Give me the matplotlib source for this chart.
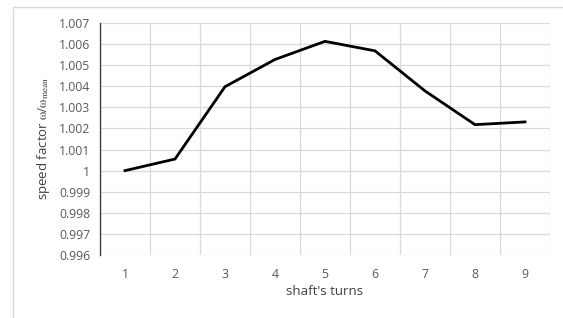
import matplotlib
matplotlib.use("Agg")
import matplotlib.pyplot as plt
from matplotlib.patches import Rectangle
import numpy as np

turns = [1, 2, 3, 4, 5, 6, 7, 8, 9]
speed = [1.0000, 1.00055, 1.00398, 1.00527, 1.00613, 1.00568, 1.00378, 1.00218, 1.00231]
yticks = [0.996, 0.997, 0.998, 0.999, 1.0, 1.001, 1.002, 1.003, 1.004, 1.005, 1.006, 1.007]
ytick_labels = ["0.996", "0.997", "0.998", "0.999", "1", "1.001", "1.002", "1.003",
                "1.004", "1.005", "1.006", "1.007"]

plt.rcParams['font.family'] = ['Open Sans', 'DejaVu Sans']
plt.rcParams['mathtext.fontset'] = 'stix'

fig = plt.figure(figsize=(5.63, 3.18), dpi=100)
fig.patches.append(Rectangle((13/563, -0.1), 1.0, 1.1 - 7/318, transform=fig.transFigure,
                             fill=False, edgecolor='#d9d9d9', linewidth=1))
ax = fig.add_axes([100/563, 1 - 255/318, 450/563, 232/318])

x = np.arange(len(turns))
ax.plot(x, speed, color='black', linewidth=2.0, solid_joinstyle='miter', zorder=3)

ax.set_xlim(-0.5, len(turns) - 0.5)
ax.set_ylim(0.996, 1.007)
ax.set_yticks(yticks)
ax.set_yticklabels(ytick_labels)
ax.set_xticks(x)
ax.set_xticklabels([str(t) for t in turns])
ax.set_xticks(np.arange(len(turns) + 1) - 0.5, minor=True)

ax.grid(True, axis='y', which='major', color='#d9d9d9', linewidth=0.9)
ax.grid(True, axis='x', which='minor', color='#d9d9d9', linewidth=0.9)
ax.tick_params(axis='both', which='both', length=0, colors='#595959', labelsize=8.8)
ax.tick_params(axis='x', pad=9)
ax.tick_params(axis='y', pad=7)

for s in ['top', 'right', 'bottom']:
    ax.spines[s].set_visible(False)
ax.spines['left'].set_color('#404040')
ax.spines['left'].set_linewidth(1.0)

ax.set_xlabel("shaft's turns", color='#404040', fontsize=9.5, labelpad=3)
ax.set_ylabel(r"speed factor $\mathrm{ω/ω}_{\mathrm{mean}}$", color='#404040', fontsize=9.5,
              labelpad=5)

fig.savefig("out.png", dpi=100)
